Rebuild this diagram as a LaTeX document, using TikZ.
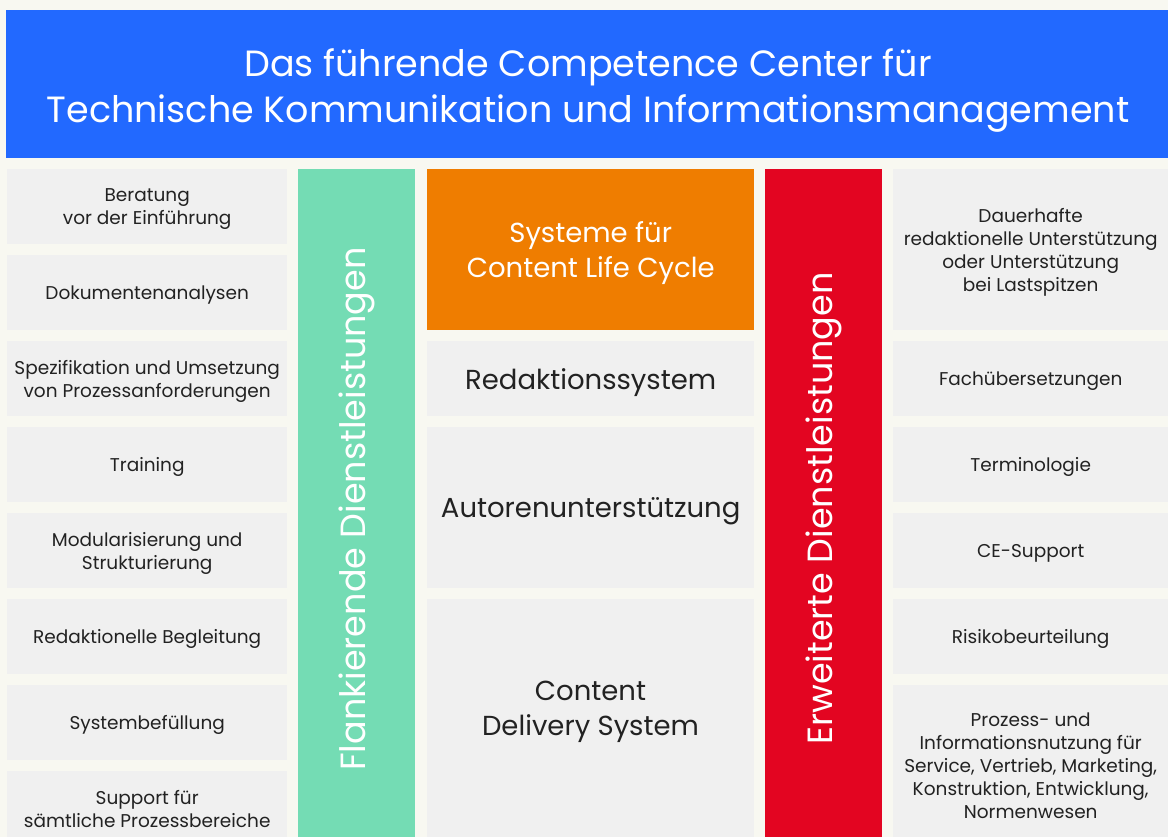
\documentclass[tikz,border=0pt]{standalone}
\usepackage{fontspec}
\setmainfont{Poppins}
\definecolor{paper}{HTML}{F8F8F1}
\definecolor{headblue}{HTML}{2269FF}
\definecolor{flankgreen}{HTML}{74DCB4}
\definecolor{clcorange}{HTML}{EF7D00}
\definecolor{extred}{HTML}{E30521}
\definecolor{cellgray}{HTML}{F0F0F0}
\definecolor{ink}{HTML}{222222}
\tikzset{
  cell/.style={fill=cellgray,anchor=north west,inner sep=0pt,align=center,text=ink,text depth=0pt,
    font=\fontsize{18.5}{23}\selectfont},
  bigcell/.style={cell,font=\fontsize{27.5}{35}\selectfont},
  bar/.style={inner sep=0pt,anchor=north west,minimum width=117pt,minimum height=668pt},
  bartext/.style={rotate=90,text=white,font=\fontsize{35}{40}\selectfont},
}
\begin{document}
\begin{tikzpicture}[x=1pt,y=-1pt]
\useasboundingbox (0,0) rectangle (1168,837);
\clip (0,0) rectangle (1168,837);
\fill[paper] (0,0) rectangle (1168,837);
% header
\node[fill=headblue,anchor=north west,inner sep=0pt,minimum width=1162pt,minimum height=148pt] (head) at (6,10) {};
\node[text=white,align=center,font=\fontsize{36.5}{46}\selectfont] (headtext) at (588,90)
  {Das führende Competence Center für\\Technische Kommunikation und Informationsmanagement};
% left column
\foreach \txt [count=\i] in {{Beratung\\vor der Einführung},Dokumentenanalysen,
  {Spezifikation und Umsetzung\\von Prozessanforderungen},Training,
  {Modularisierung und\\Strukturierung},Redaktionelle Begleitung,Systembefüllung,
  {Support für\\sämtliche Prozessbereiche}}
  \node[cell,minimum width=280pt,minimum height=75pt] (left\i) at (7,{169+86*(\i-1)}) {\txt};
% side bars
\node[bar,fill=flankgreen] (flank) at (298,169) {};
\node[bartext] (flanktext) at (356.5,509) {Flankierende Dienstleistungen};
\node[bar,fill=extred] (ext) at (765,169) {};
\node[bartext] (exttext) at (823.5,508.5) {Erweiterte Dienstleistungen};
% middle column
\node[bigcell,fill=clcorange,text=white,minimum width=327pt,minimum height=161pt] (clc) at (427,169)
  {Systeme für\\Content Life Cycle};
\node[bigcell,minimum width=327pt,minimum height=75pt] (red) at (427,341) {Redaktionssystem};
\node[bigcell,minimum width=327pt,minimum height=161pt] (auth) at (427,427) {Autorenunterstützung};
\fill[cellgray] (427,599) rectangle (754,837);
\node[text=ink,align=center,text depth=0pt,font=\fontsize{27.5}{35}\selectfont] (cds) at (590.5,708)
  {Content\\Delivery System};
% right column
\node[cell,minimum width=275pt,minimum height=161pt] (right1) at (893,169)
  {Dauerhafte\\redaktionelle Unterstützung\\oder Unterstützung\\bei Lastspitzen};
\foreach \txt [count=\i from 2] in {Fachübersetzungen,Terminologie,CE-Support,Risikobeurteilung}
  \node[cell,minimum width=275pt,minimum height=75pt] (right\i) at (893,{341+86*(\i-2)}) {\txt};
\node[cell,minimum width=275pt,minimum height=161pt] (right6) at (893,685)
  {Prozess- und\\Informationsnutzung für\\Service, Vertrieb, Marketing,\\Konstruktion, Entwicklung,\\Normenwesen};
\end{tikzpicture}
\end{document}
